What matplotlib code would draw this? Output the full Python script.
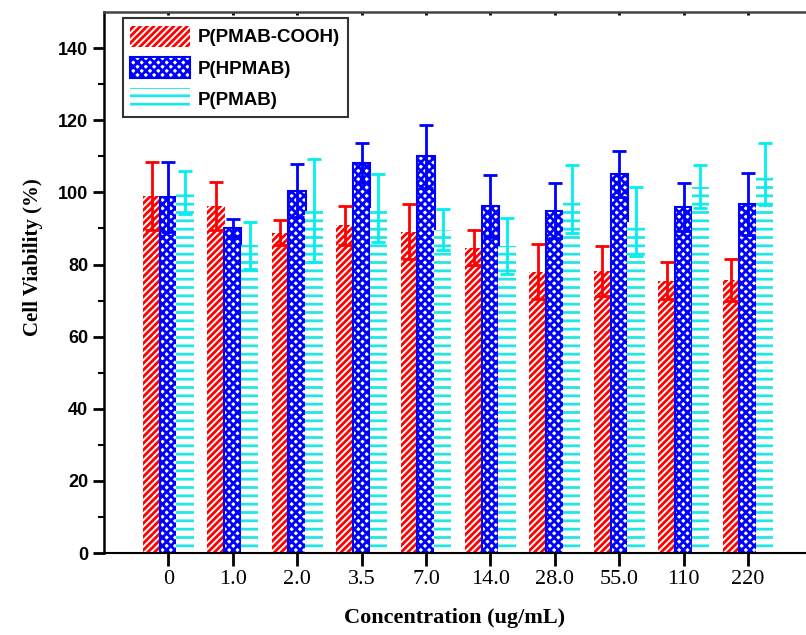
import matplotlib
matplotlib.use('Agg')
import matplotlib.pyplot as plt
import numpy as np

concentrations = ['0', '1.0', '2.0', '3.5', '7.0', '14.0', '28.0', '55.0', '110', '220']

cooh_mean = [99.0, 96.3, 88.8, 90.9, 89.1, 84.7, 78.0, 78.3, 75.5, 75.7]
cooh_err = [9.5, 6.7, 3.5, 5.4, 7.7, 4.8, 7.6, 6.9, 5.1, 5.7]

hpmab_mean = [98.8, 90.0, 100.5, 108.2, 110.0, 96.2, 94.9, 105.1, 96.0, 96.8]
hpmab_err = [9.7, 2.6, 7.3, 5.6, 8.7, 8.6, 7.6, 6.5, 6.7, 8.6]

pmab_mean = [99.9, 85.4, 94.9, 95.6, 89.7, 85.1, 98.1, 91.9, 101.6, 105.1]
pmab_err = [6.0, 6.5, 14.3, 9.4, 5.6, 7.7, 9.4, 9.5, 6.0, 8.5]

labels = ['P(PMAB-COOH)', 'P(HPMAB)', 'P(PMAB)']

plt.rcParams['hatch.linewidth'] = 2.0

fig = plt.figure(figsize=(8.06, 6.35), dpi=100)
ax = fig.add_axes([0.129, 0.129, 0.871, 0.852])

x = np.arange(len(concentrations))
w = 0.27

series = [
    (cooh_mean, cooh_err, -0.26, 'red', 'red', '/////', 0),
    (hpmab_mean, hpmab_err, 0.0, 'blue', 'blue', 'xxxx', 1.5),
    (pmab_mean, pmab_err, 0.26, '#22e6e6', '#00f0f0', '--', 0),
]

for (m, e, off, col, ecol, hatch, lw), lab in zip(series, labels):
    ax.bar(x + off, m, w, facecolor='white', edgecolor=col, hatch=hatch,
           linewidth=lw, label=lab, zorder=2)
    ax.errorbar(x + off, m, yerr=e, fmt='none', ecolor=ecol, elinewidth=2,
                capsize=5, capthick=2, zorder=3)

ax.set_xlim(-1.0, 9.9)
ax.set_ylim(0, 150)
ax.set_yticks(np.arange(0, 141, 20))
ax.set_yticks(np.arange(10, 141, 20), minor=True)
ax.set_xticks(x)
ax.set_xticklabels(concentrations, family='Liberation Serif', fontsize=16)
for t in ax.get_yticklabels():
    t.set_family('Liberation Sans')
    t.set_fontweight('bold')
    t.set_fontsize(13)

ax.tick_params(axis='y', which='major', direction='out', length=8, width=2)
ax.tick_params(axis='y', which='minor', direction='out', length=4, width=1.5)
ax.tick_params(axis='x', which='major', direction='out', length=9, width=2, pad=3)

ax.spines['right'].set_visible(False)
ax.spines['left'].set_linewidth(1.8)
ax.spines['bottom'].set_linewidth(1.5)
ax.spines['top'].set_linewidth(1.8)
ax.spines['top'].set_color('#444444')

top = ax.secondary_xaxis('top')
top.set_xticks(x)
top.tick_params(direction='in', length=2, width=2, labeltop=False)
top.spines['top'].set_visible(False)

ax.set_ylabel('Cell Viability (%)', family='Liberation Serif', fontweight='bold',
              fontsize=15)
ax.yaxis.set_label_coords(-0.087, 0.547)
ax.set_xlabel('Concentration (ug/mL)', family='Liberation Serif', fontweight='bold',
              fontsize=16, labelpad=14)

leg = ax.legend(loc='upper left', bbox_to_anchor=(0.027, 0.989), borderaxespad=0,
                frameon=True, fancybox=False, edgecolor='black',
                handlelength=3.2, handleheight=1.35, borderpad=0.4,
                labelspacing=0.55, handletextpad=0.4,
                prop={'family': 'Liberation Sans', 'weight': 'bold', 'size': 13.5})
leg.get_frame().set_linewidth(1.5)

fig.savefig('out.png', dpi=100)
